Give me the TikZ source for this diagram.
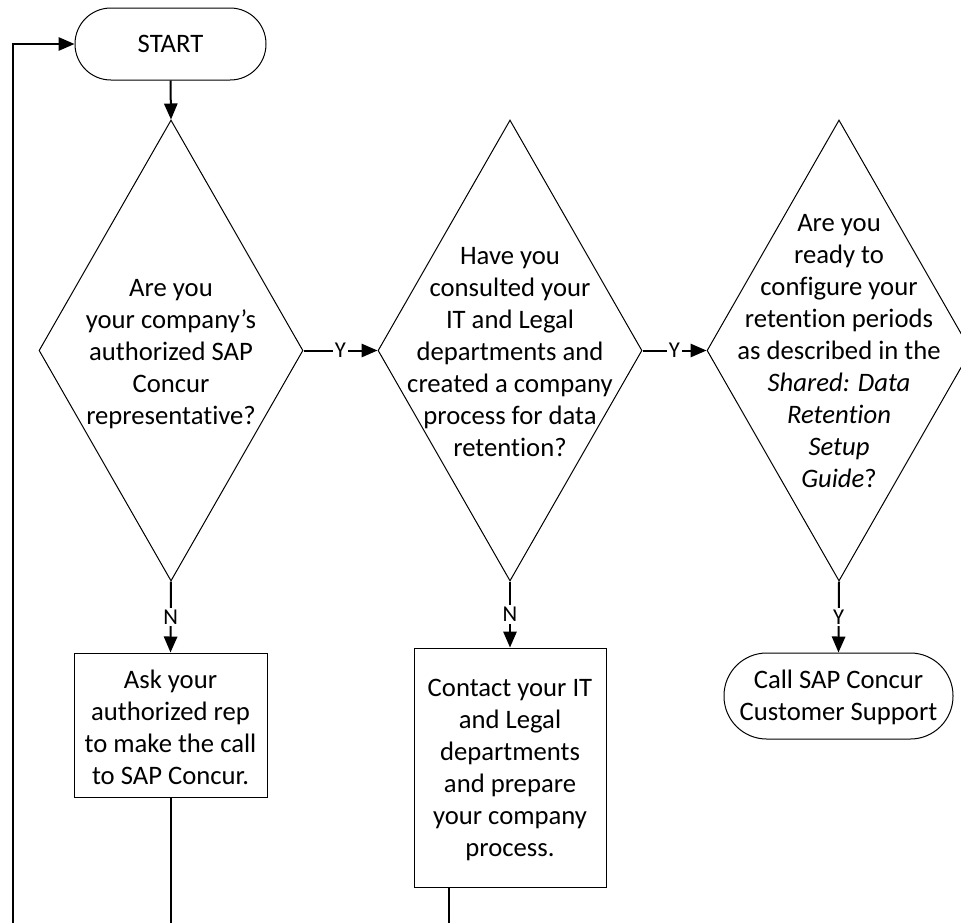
\documentclass[tikz,border=0pt]{standalone}
\usepackage{fontspec}
\setmainfont{Carlito}[Ligatures=NoCommon]
\usetikzlibrary{shapes.geometric,arrows.meta}
\begin{document}
\begin{tikzpicture}[x=0.75pt,y=-0.75pt,
  shp/.style={draw=black, line width=0.75pt, inner sep=0pt, fill=white},
  dec/.style={shp, diamond, minimum width=198pt, minimum height=345.75pt},
  procbox/.style={shp, rectangle},
  termbox/.style={shp, rectangle},
  txt/.style={align=center, font=\fontsize{20}{24}\selectfont, inner sep=0pt},
  conn/.style={line width=1.5pt, -{Triangle[length=12pt,width=10pt]}},
  plainline/.style={line width=1.5pt},
  lab/.style={fill=white, inner sep=1.5pt, font=\fontsize{17}{20}\selectfont}
]
\clip (0,0) rectangle (961,922);
\useasboundingbox (0,0) rectangle (961,922);
\fill[white] (0,0) rectangle (961,922);

% shapes
\node[termbox, rounded corners=26.9pt, minimum width=143.25pt, minimum height=54pt, txt] (start) at (170.5,44) {START};
\node[dec] (d1) at (171,350.5) {};
\node[dec] (d2) at (510,350.5) {};
\node[dec] (d3) at (839,350.5) {};
\node[procbox, minimum width=144.75pt, minimum height=108pt] (r1) at (170.5,725) {};
\node[procbox, minimum width=144pt, minimum height=179.25pt] (r2) at (510,767.5) {};
\node[termbox, rounded corners=32pt, minimum width=171.75pt, minimum height=64.5pt] (fin) at (838.5,696) {};

% texts
\node[txt] (t1) at (171,354) {Are you\\your company’s\\authorized SAP\\Concur\\representative?};
\node[txt] (t2) at (510,352) {Have you\\consulted your\\IT and Legal\\departments and\\created a company\\process for data\\retention?};
\node[txt] (t3) at (839,351.5) {Are you\\ready to\\configure your\\retention periods\\as described in the\\\textit{Shared: Data}\\\textit{Retention}\\\textit{Setup}\\\textit{Guide}?};
\node[txt] (t4) at (170.5,727.5) {Ask your\\authorized rep\\to make the call\\to SAP Concur.};
\node[txt] (t5) at (510,770) {Contact your IT\\and Legal\\departments\\and prepare\\your company\\process.};
\node[txt] (t6) at (838.5,697.5) {Call SAP Concur\\Customer Support};

% free ends
\coordinate (b0) at (13,930);
\coordinate (b1) at (170.5,930);
\coordinate (b2) at (449,930);

% connectors
\draw[conn] (start.south) -- (d1.north);
\draw[conn] (d1.east) -- node[lab] {Y} (d2.west);
\draw[conn] (d2.east) -- node[lab] {Y} (d3.west);
\draw[conn] (d1.south) -- node[lab] {N} (r1.north);
\draw[conn] (d2.south) -- node[lab] {N} (r2.north);
\draw[conn] (d3.south) -- node[lab] {Y} (fin.north);
\draw[plainline] (r1.south) -- (b1);
\draw[plainline] (b2 |- r2.south) -- (b2);
\draw[conn] (b0) |- (start.west);
\end{tikzpicture}
\end{document}
